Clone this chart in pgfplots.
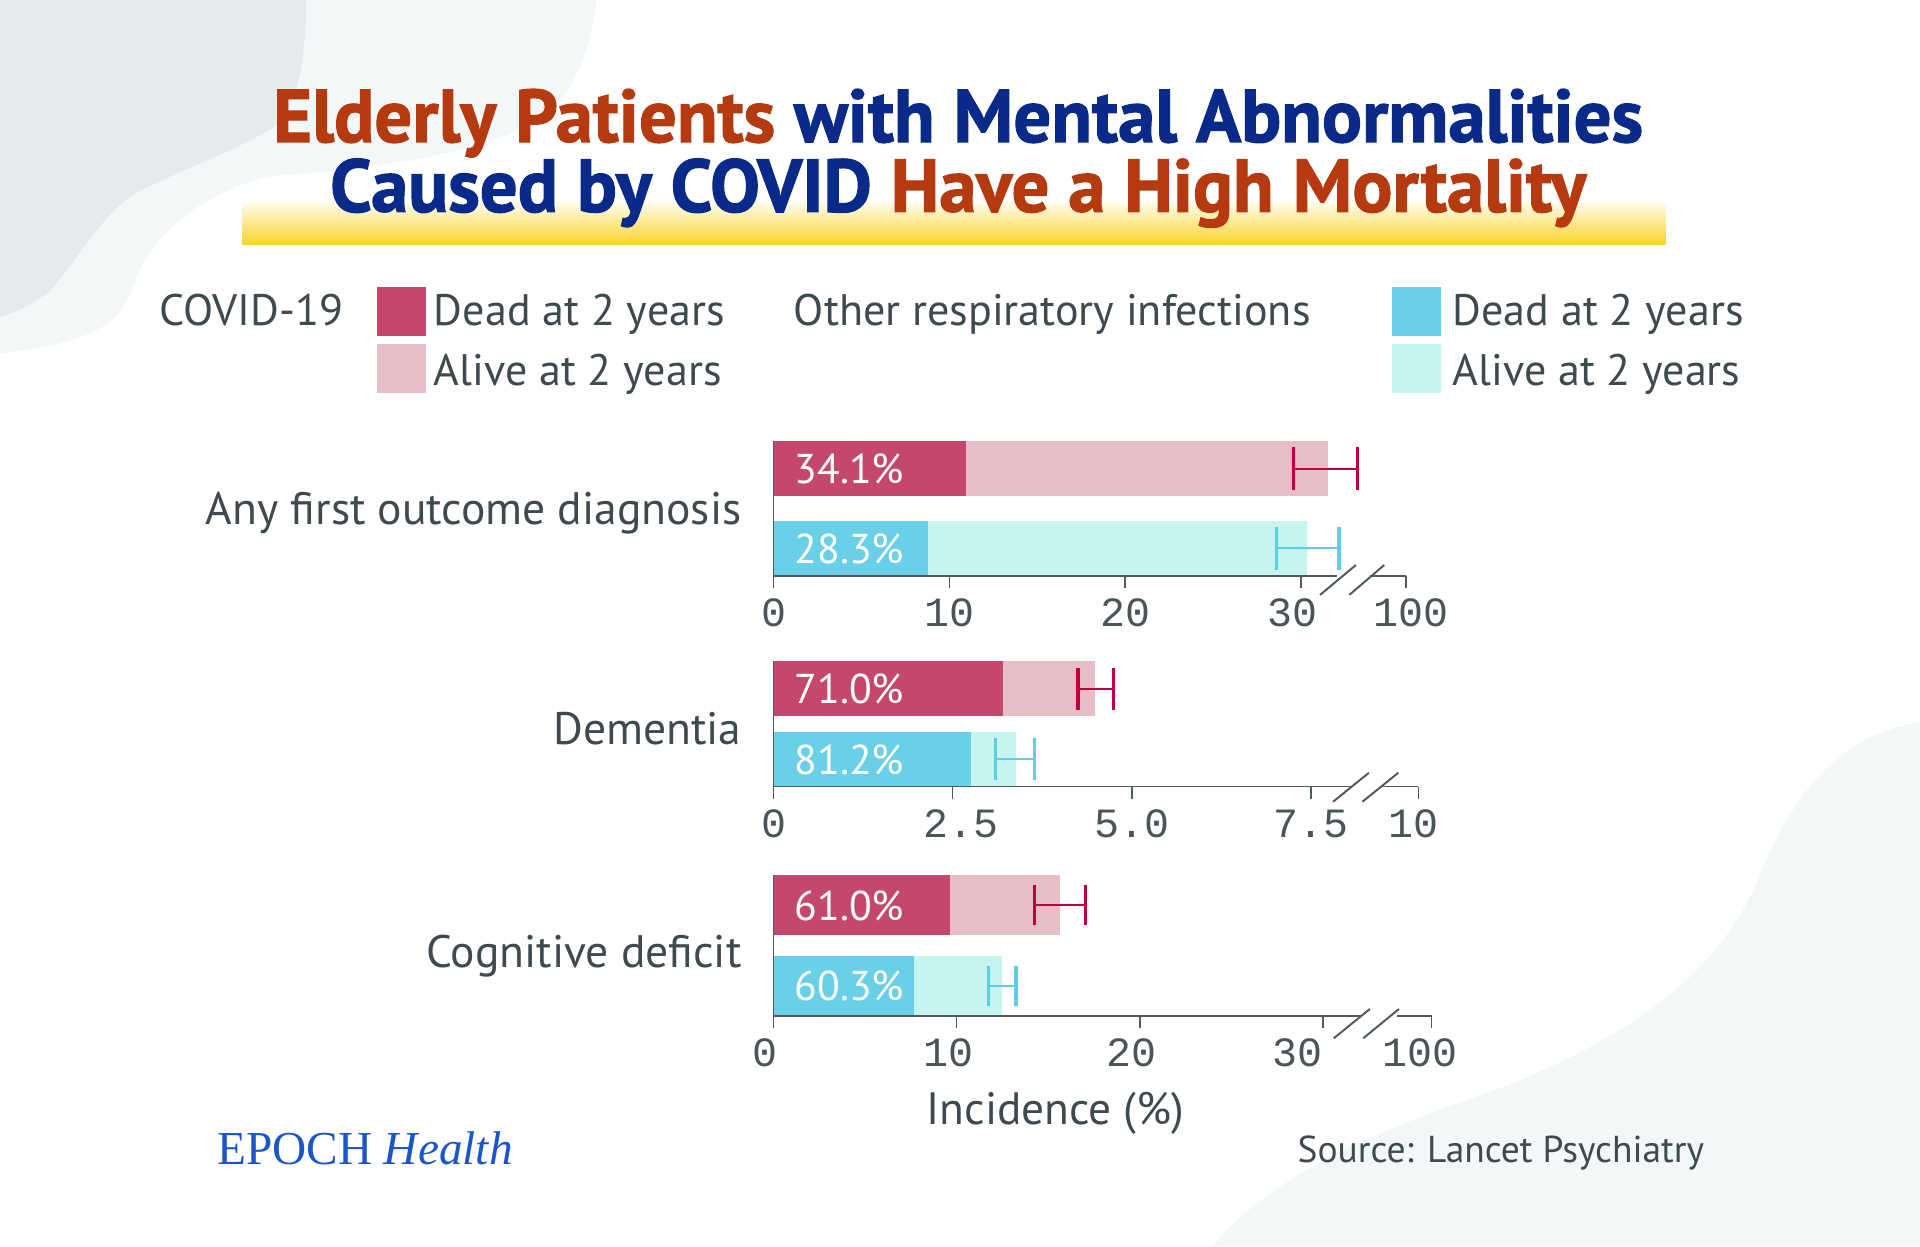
\documentclass[border=0pt]{standalone}
\usepackage{pgfplots}
\pgfplotsset{compat=1.18}
\usepackage{fontspec}
\setmainfont{PT Sans}
\newfontfamily\titlefont{PT Sans}[BoldFeatures={FakeBold=1.5}]
\newfontfamily\monofont{Liberation Mono}
\newfontfamily\seriffont{Liberation Serif}
\definecolor{titlered}{HTML}{B53A10}
\definecolor{titleblue}{HTML}{0A2A8A}
\definecolor{txtgray}{HTML}{3E4A4E}
\definecolor{tickgray}{HTML}{4A5558}
\definecolor{axisgray}{HTML}{4F5A5E}
\definecolor{deadpink}{HTML}{C4486E}
\definecolor{alivepink}{HTML}{E7BEC5}
\definecolor{deadcyan}{HTML}{69D0E7}
\definecolor{alivecyan}{HTML}{C6F5F1}
\definecolor{errred}{HTML}{C0003C}
\definecolor{errcyan}{HTML}{5ACFE5}
\definecolor{bgdark}{HTML}{E4EAEE}
\definecolor{bglight}{HTML}{F4F7F8}
\definecolor{epochblue}{HTML}{1A56C8}
\definecolor{gold}{HTML}{F9D22A}
\definecolor{paleyel}{HTML}{FFFBEA}
\newcommand\tickfont{\monofont\fontsize{17}{19}\selectfont}
\newcommand\barfont{\fontsize{17}{20}\selectfont}
\newcommand\labfont{\fontsize{18}{21}\selectfont}
\newcommand\catfont{\fontsize{18.6}{21}\selectfont}
\pgfplotsset{panel/.style={
  scale only axis, xmin=0, ymin=0, clip=false,
  axis x line*=bottom, axis y line*=left,
  x axis line style={draw=none},
  y axis line style={draw=axisgray, line width=0.6pt, -},
  ytick=\empty, tick align=outside, major tick length=4.9pt,
  xtick style={draw=axisgray, line width=0.6pt},
  xticklabel style={font=\tickfont, text=tickgray, anchor=base, yshift=-15.85pt},
  at={(0pt,0pt)}, anchor=south west,
}}
\begin{document}
\begin{tikzpicture}[x=0.5pt,y=0.5pt]
% background
\fill[white] (0,0) rectangle (1568,1018);
\fill[bglight] (0,1018) -- (487,1018) .. controls (480,960) and (460,930) .. (430,915)
  .. controls (380,890) and (300,880) .. (220,874) .. controls (160,860) and (120,820) .. (110,787)
  .. controls (100,760) and (90,740) .. (0,729) -- cycle;
\fill[bgdark] (0,1018) -- (250,1018) .. controls (250,960) and (240,920) .. (215,909)
  .. controls (180,890) and (150,880) .. (110,860) .. controls (80,840) and (60,800) .. (40,780)
  .. controls (25,768) and (10,762) .. (0,759) -- cycle;
\fill[bglight] (1568,0) -- (1568,428) .. controls (1510,420) and (1470,380) .. (1440,310)
  .. controls (1410,230) and (1340,170) .. (1200,120) .. controls (1110,90) and (1030,50) .. (990,0) -- cycle;
% title
\shade[top color=paleyel, bottom color=gold] (198,818) rectangle (1360,852.5);
\node[anchor=base, inner sep=0, font=\titlefont\bfseries\fontsize{30.5}{33}\selectfont] at (782.5,902)
  {\textcolor{titlered}{Elderly Patients} \textcolor{titleblue}{with Mental Abnormalities}};
\node[anchor=base, inner sep=0, font=\titlefont\bfseries\fontsize{30.5}{33}\selectfont] at (782.5,845)
  {\textcolor{titleblue}{Caused by COVID} \textcolor{titlered}{Have a High Mortality}};
% legend
\begin{scope}[every node/.style={anchor=base west, inner sep=0, font=\labfont, text=txtgray}]
\node at (130,752.5) {COVID-19};
\fill[deadpink] (308,743.6) rectangle (348,783.3);
\fill[alivepink] (308,697.3) rectangle (348,737);
\node at (354,752.5) {Dead at 2 years};
\node at (354,703.5) {Alive at 2 years};
\node at (648,752.5) {Other respiratory infections};
\fill[deadcyan] (1137,743.6) rectangle (1177,783.3);
\fill[alivecyan] (1137,697.3) rectangle (1177,737);
\node at (1186,752.5) {Dead at 2 years};
\node at (1186,703.5) {Alive at 2 years};
\end{scope}
% category labels
\begin{scope}[every node/.style={anchor=base east, inner sep=0, font=\catfont, text=txtgray}]
\node at (606,590) {Any first outcome diagnosis};
\node at (606,410) {Dementia};
\node at (606,228) {Cognitive deficit};
\end{scope}
% panel 1
\begin{scope}[shift={(631.8,547.6)}]
\begin{axis}[panel, width=258.3pt, height=55pt,
  xmax=36.0, ymax=110,
  xtick={0,10,20,30,36.0}, xticklabels={0,10,20,{30\hspace*{6.8pt}},{\hspace*{4pt}100}}]
\addplot[xbar, bar width=45, bar shift=0pt, fill=alivepink, draw=none] coordinates {(31.57,87.5)};
\addplot[xbar, bar width=45, bar shift=0pt, fill=deadpink, draw=none] coordinates {(10.95,87.5)};
\addplot[xbar, bar width=45, bar shift=0pt, fill=alivecyan, draw=none] coordinates {(30.33,22.5)};
\addplot[xbar, bar width=45, bar shift=0pt, fill=deadcyan, draw=none] coordinates {(8.80,22.5)};
\addplot[errred, line width=0.8pt, mark=|, mark size=8.75pt, mark options={line width=1.3pt}] coordinates {(29.60,87.5) (33.23,87.5)};
\addplot[errcyan, line width=0.8pt, mark=|, mark size=8.75pt, mark options={line width=1.3pt}] coordinates {(28.60,22.5) (32.17,22.5)};
\node[anchor=base west, inner sep=0, font=\barfont, text=white] at (axis cs:0,87.5) [xshift=8.5pt, yshift=-6.1pt] {34.1\%};
\node[anchor=base west, inner sep=0, font=\barfont, text=white] at (axis cs:0,22.5) [xshift=8.5pt, yshift=-6.1pt] {28.3\%};
\draw[axisgray, line width=0.6pt] (axis cs:0,0) -- (axis cs:32.04,0);
\draw[axisgray, line width=0.8pt] (axis cs:31.09,-15.5) -- (axis cs:33.14,9);
\draw[axisgray, line width=0.8pt] (axis cs:32.76,-15.5) -- (axis cs:34.75,9);
\draw[axisgray, line width=0.6pt] (axis cs:33.94,0) -- (axis cs:36.0,0);
\end{axis}
\end{scope}
% panel 2
\begin{scope}[shift={(631.8,375.5)}]
\begin{axis}[panel, width=263.25pt, height=51.25pt,
  xmax=9.0, ymax=102.5,
  xtick={0,2.5,5,7.5,9.0}, xticklabels={0,{\hspace*{6.8pt}2.5},5.0,7.5,{10\hspace*{4pt}}}]
\addplot[xbar, bar width=45, bar shift=0pt, fill=alivepink, draw=none] coordinates {(4.49,80)};
\addplot[xbar, bar width=45, bar shift=0pt, fill=deadpink, draw=none] coordinates {(3.20,80)};
\addplot[xbar, bar width=45, bar shift=0pt, fill=alivecyan, draw=none] coordinates {(3.38,22.5)};
\addplot[xbar, bar width=45, bar shift=0pt, fill=deadcyan, draw=none] coordinates {(2.75,22.5)};
\addplot[errred, line width=0.8pt, mark=|, mark size=8.5pt, mark options={line width=1.3pt}] coordinates {(4.25,80) (4.74,80)};
\addplot[errcyan, line width=0.8pt, mark=|, mark size=8.5pt, mark options={line width=1.3pt}] coordinates {(3.10,22.5) (3.64,22.5)};
\node[anchor=base west, inner sep=0, font=\barfont, text=white] at (axis cs:0,80) [xshift=8.5pt, yshift=-6.1pt] {71.0\%};
\node[anchor=base west, inner sep=0, font=\barfont, text=white] at (axis cs:0,22.5) [xshift=8.5pt, yshift=-6.1pt] {81.2\%};
\draw[axisgray, line width=0.6pt] (axis cs:0,0) -- (axis cs:8.07,0);
\draw[axisgray, line width=0.8pt] (axis cs:7.81,-12.25) -- (axis cs:8.31,11.4);
\draw[axisgray, line width=0.8pt] (axis cs:8.22,-12.25) -- (axis cs:8.72,11.4);
\draw[axisgray, line width=0.6pt] (axis cs:8.51,0) -- (axis cs:9.0,0);
\end{axis}
\end{scope}
% panel 3
\begin{scope}[shift={(631.8,188.3)}]
\begin{axis}[panel, width=268.65pt, height=57.5pt,
  xmax=35.94, ymax=115,
  xticklabel style={xshift=-3.4pt},
  xtick={0,10,20,30,35.94}, xticklabels={0,10,20,{30\hspace*{14pt}},{100\hspace*{3pt}}}]
\addplot[xbar, bar width=49, bar shift=0pt, fill=alivepink, draw=none] coordinates {(15.63,90.5)};
\addplot[xbar, bar width=49, bar shift=0pt, fill=deadpink, draw=none] coordinates {(9.63,90.5)};
\addplot[xbar, bar width=49, bar shift=0pt, fill=alivecyan, draw=none] coordinates {(12.46,24.5)};
\addplot[xbar, bar width=49, bar shift=0pt, fill=deadcyan, draw=none] coordinates {(7.67,24.5)};
\addplot[errred, line width=0.8pt, mark=|, mark size=8.3pt, mark options={line width=1.3pt}] coordinates {(14.25,90.5) (17.02,90.5)};
\addplot[errcyan, line width=0.8pt, mark=|, mark size=8.3pt, mark options={line width=1.3pt}] coordinates {(11.73,24.5) (13.24,24.5)};
\node[anchor=base west, inner sep=0, font=\barfont, text=white] at (axis cs:0,90.5) [xshift=8.5pt, yshift=-6.1pt] {61.0\%};
\node[anchor=base west, inner sep=0, font=\barfont, text=white] at (axis cs:0,24.5) [xshift=8.5pt, yshift=-6.1pt] {60.3\%};
\draw[axisgray, line width=0.6pt] (axis cs:0,0) -- (axis cs:32.12,0);
\draw[axisgray, line width=0.8pt] (axis cs:30.6,-18.2) -- (axis cs:32.57,5.7);
\draw[axisgray, line width=0.8pt] (axis cs:32.21,-18.2) -- (axis cs:34.16,5.7);
\draw[axisgray, line width=0.6pt] (axis cs:34.07,0) -- (axis cs:35.94,0);
\end{axis}
\end{scope}
% bottom texts
\node[anchor=base, inner sep=0, font=\fontsize{18.5}{21}\selectfont, text=txtgray] at (862,100) {Incidence (\%)};
\node[anchor=base west, inner sep=0, font=\seriffont\fontsize{19.3}{22}\selectfont, text=epochblue] at (177,67.4) {EPOCH \textit{Health}};
\node[anchor=base east, inner sep=0, font=\fontsize{15.3}{18}\selectfont, text=txtgray] at (1392,68.5) {Source: Lancet Psychiatry};
\end{tikzpicture}
\end{document}
